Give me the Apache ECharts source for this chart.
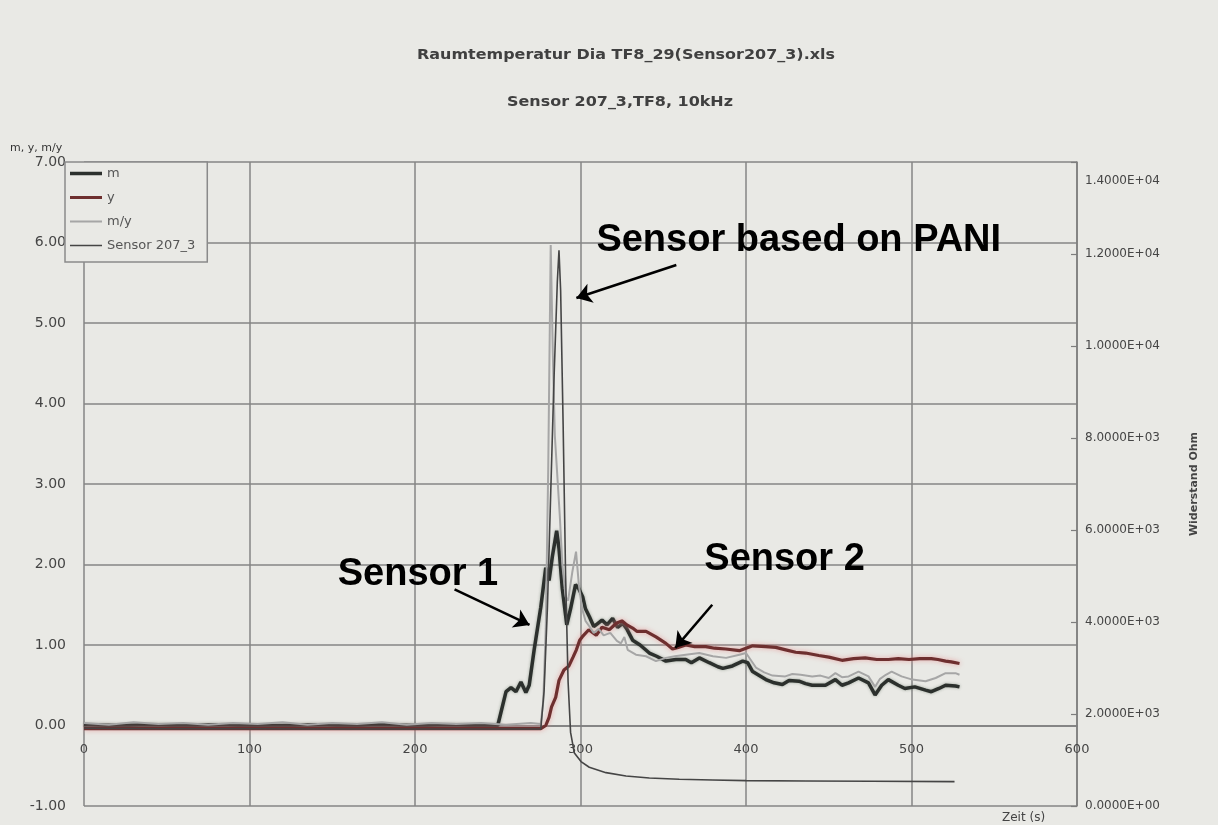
<!DOCTYPE html>
<html>
<head>
<meta charset="utf-8">
<script src="https://cdn.jsdelivr.net/npm/echarts@6/dist/echarts.min.js"></script>
<style>
  html, body { margin: 0; padding: 0; background: #e9e9e5; }
  #chart { width: 1218px; height: 825px; }
</style>
</head>
<body>
<div id="chart"></div>
<script>
// Messreihen: [Zeit (s), Wert]
const mKurve = [
  [0,0.01],[20,0.0],[40,0.01],[60,0.0],[80,0.01],[100,0.0],[120,0.0],[140,0.01],[160,0.0],[180,0.01],
  [200,0.0],[220,0.01],[240,0.0],[250,0.0],[255,0.42],[258,0.47],[261,0.42],[264,0.54],[267,0.41],
  [269,0.5],[272,0.94],[276,1.47],[279,1.96],[281,1.8],[283,2.1],[285.6,2.42],[287,2.2],[289,1.7],
  [291.7,1.25],[294,1.45],[297,1.75],[299,1.7],[301.3,1.6],[303,1.45],[305.4,1.35],[308,1.23],[310,1.26],
  [313,1.31],[316,1.25],[319.4,1.33],[322.4,1.22],[325.5,1.27],[328,1.2],[331.5,1.06],[336,1.0],
  [341.6,0.9],[346,0.86],[351.6,0.8],[357.6,0.82],[363.6,0.82],[367,0.78],[371.8,0.84],[377.8,0.78],
  [383,0.73],[386,0.71],[391.8,0.74],[398,0.8],[401,0.78],[404,0.67],[408,0.62],[412,0.57],[417,0.53],
  [422,0.51],[426,0.56],[432,0.55],[436,0.52],[440,0.5],[448,0.5],[454,0.57],[458,0.5],[462,0.53],
  [468,0.59],[474,0.53],[478,0.38],[482,0.5],[486,0.57],[492,0.5],[496,0.46],[502,0.48],[508.5,0.44],
  [512,0.42],[516.6,0.46],[520.6,0.5],[526.6,0.49],[529,0.48]
];

const yKurve = [
  [0,-0.04],[50,-0.04],[100,-0.04],[150,-0.04],[200,-0.04],[250,-0.04],[276,-0.04],[279,0.0],[281,0.1],
  [282.5,0.23],[285,0.35],[287,0.56],[290,0.69],[293,0.74],[295.5,0.85],[297.5,0.94],[299.5,1.06],
  [301,1.1],[305,1.19],[309.5,1.12],[313,1.22],[317.5,1.19],[321.6,1.27],[325,1.3],[328,1.25],
  [331.5,1.21],[334,1.17],[339.6,1.17],[345.6,1.1],[351.6,1.02],[355.6,0.95],[359,0.97],[363.6,1.0],
  [369,0.98],[375.7,0.98],[381,0.96],[387.8,0.95],[396,0.93],[400,0.96],[404,0.99],[412,0.98],
  [418,0.97],[424,0.94],[430,0.91],[436,0.9],[444,0.87],[450,0.85],[458,0.81],[465,0.83],[472,0.84],
  [479,0.82],[486,0.82],[492,0.83],[498.5,0.82],[505,0.83],[512,0.83],[516,0.82],[520.6,0.8],
  [524,0.79],[529,0.77]
];

const myKurve = [
  [0,0.03],[15,0.01],[30,0.04],[45,0.02],[60,0.03],[75,0.01],[90,0.03],[105,0.02],[120,0.04],[135,0.01],
  [150,0.03],[165,0.02],[180,0.04],[195,0.01],[210,0.03],[225,0.02],[240,0.03],[255,0.01],[270,0.03],
  [276,0.02],[277.5,0.3],[279,1.2],[280.5,3.2],[282,5.97],[283.3,4.6],[284.5,3.6],[286,3.1],[287.5,2.6],
  [289,2.0],[291,1.6],[292.5,1.55],[295,1.9],[297.3,2.16],[299,1.75],[301,1.45],[303,1.3],[305.4,1.23],
  [308,1.15],[311,1.2],[314,1.12],[318,1.15],[322,1.05],[324.4,1.02],[326.5,1.1],[328.5,0.94],
  [333.5,0.88],[339.6,0.86],[345.6,0.8],[351.6,0.84],[357,0.86],[363.6,0.88],[371.8,0.9],[380,0.86],
  [388,0.84],[396,0.88],[400,0.9],[406,0.72],[411,0.66],[416,0.62],[423.7,0.61],[428,0.64],[433,0.63],
  [440,0.61],[445,0.62],[450,0.59],[454,0.65],[458,0.6],[462,0.61],[468,0.67],[474,0.61],[478,0.48],
  [481,0.58],[484.5,0.63],[488,0.67],[494,0.61],[500.5,0.57],[508.5,0.55],[514.6,0.59],[520.6,0.65],
  [526.6,0.65],[529,0.63]
];

// Widerstand des Sensors 207_3 in Ohm (rechte Achse)
const sensorKurve = [
  [0,1690],[50,1680],[100,1680],[150,1675],[200,1675],[250,1675],[276,1675],[278,2500],[280,4300],
  [282,6800],[284,9300],[286,11400],[287,12080],[288,11200],[289.5,8300],[291,5000],[292.5,2700],
  [294,1600],[296.3,1150],[300.3,965],[305.3,842],[315.4,725],[327.5,653],[341.6,609],[359.7,581],
  [379.8,566],[400,552],[436,544],[476,537],[526,530]
];

const serienNamen = ['m', 'y', 'm/y', 'Sensor 207_3'];

// Beschriftungen und Pfeile in Datenkoordinaten (linke Achse)
const beschriftungen = [
  { text: 'Sensor based on PANI', pos: [309.6, 6.03] },
  { text: 'Sensor 1', pos: [153.3, 1.87] },
  { text: 'Sensor 2', pos: [374.8, 2.06] }
];
const pfeile = [
  { von: [357.9, 5.72], nach: [297.5, 5.31] },
  { von: [223.9, 1.69], nach: [269.2, 1.25] },
  { von: [379.6, 1.50], nach: [357.3, 0.965] }
];

const FONT = 'DejaVu Sans';
const PAPIER = '#e9e9e5';
const GITTER = '#858585';
const TEXT = '#454545';

// Legendensymbol: waagrechte Linie der Dicke d in einem 32x12-Feld
function linienSymbol(d) {
  const o = (6 - d / 2).toFixed(2), u = (6 + d / 2).toFixed(2);
  return 'path://M0,0 L0.01,0 L0,0.01 Z M0,' + o + ' L32,' + o + ' L32,' + u + ' L0,' + u +
         ' Z M32,12 L31.99,12 L32,11.99 Z';
}

function wissenschaftlich(v) {
  if (v === 0) return '0.0000E+00';
  const e = Math.floor(Math.log10(Math.abs(v)) + 1e-9);
  const mant = v / Math.pow(10, e);
  return mant.toFixed(4) + 'E' + (e < 0 ? '-' : '+') + String(Math.abs(e)).padStart(2, '0');
}

const chart = echarts.init(document.getElementById('chart'), null, { renderer: 'canvas' });

const option = {
  animation: false,
  backgroundColor: PAPIER,
  textStyle: { fontFamily: FONT },
  grid: { left: 84, right: 141, top: 162, bottom: 19, containLabel: false, outerBoundsMode: 'none' },
  legend: {
    data: [
      { name: 'm', icon: linienSymbol(3.5) },
      { name: 'y', icon: linienSymbol(3.2) },
      { name: 'm/y', icon: linienSymbol(2) },
      { name: 'Sensor 207_3', icon: linienSymbol(1.5) }
    ],
    orient: 'vertical',
    left: 65,
    top: 162,
    itemWidth: 32,
    itemHeight: 12,
    itemGap: 11,
    padding: [5, 12, 10, 5],
    borderColor: '#8a8a8a',
    borderWidth: 1.5,
    borderRadius: 0,
    backgroundColor: PAPIER,
    textStyle: { fontSize: 13, color: '#555', fontFamily: FONT },
    selectedMode: false
  },
  xAxis: {
    type: 'value',
    min: 0,
    max: 600,
    interval: 100,
    offset: -80.5,
    axisLine: { onZero: false, lineStyle: { color: '#7d7d7d', width: 1.5 } },
    axisTick: { show: false },
    axisLabel: { color: TEXT, fontSize: 13, margin: 18, showMinLabel: true, showMaxLabel: true, fontFamily: FONT },
    splitLine: { show: true, lineStyle: { color: GITTER, width: 1.5 } }
  },
  yAxis: [
    {
      type: 'value',
      min: -1,
      max: 7,
      interval: 1,
      position: 'left',
      axisLine: { show: false },
      axisTick: { show: false },
      axisLabel: { color: TEXT, fontSize: 14, margin: 18, fontFamily: FONT,
                   showMinLabel: true, showMaxLabel: true,
                   formatter: v => v.toFixed(2) },
      splitLine: { show: true, lineStyle: { color: GITTER, width: 1.5 } }
    },
    {
      type: 'value',
      min: 0,
      max: 14000,
      interval: 2000,
      position: 'right',
      axisLine: { show: true, lineStyle: { color: '#7d7d7d', width: 1.5 } },
      axisTick: { show: true, inside: true, length: 6, lineStyle: { color: '#7d7d7d', width: 1.2 } },
      axisLabel: {
        color: TEXT, fontSize: 12, margin: 8, fontFamily: FONT,
        showMinLabel: true, showMaxLabel: true,
        formatter: v => v === 14000 ? '{oben|' + wissenschaftlich(v) + '}' : wissenschaftlich(v),
        rich: { oben: { padding: [38, 0, 0, 0], fontSize: 12, color: TEXT, fontFamily: FONT } }
      },
      splitLine: { show: false },
      name: 'Widerstand Ohm',
      nameLocation: 'middle',
      nameRotate: 90,
      nameGap: 112,
      nameTextStyle: { fontWeight: 'bold', fontSize: 11, color: '#444', fontFamily: FONT }
    }
  ],
  series: [
    {
      name: 'm', type: 'line', yAxisIndex: 0, data: mKurve, symbol: 'none', smooth: false,
      lineStyle: { color: '#2c302d', width: 3.5, shadowColor: 'rgba(60,80,60,0.45)', shadowBlur: 3 },
      itemStyle: { color: '#2c302d' },
      emphasis: { disabled: true },
      markLine: {
        silent: true,
        symbol: ['none', 'arrow'],
        symbolSize: 15,
        label: { show: false },
        emphasis: { disabled: true },
        lineStyle: { color: '#000', width: 2.5, type: 'solid' },
        data: pfeile.map(p => [{ coord: p.von }, { coord: p.nach }])
      }
    },
    {
      name: 'y', type: 'line', yAxisIndex: 0, data: yKurve, symbol: 'none',
      lineStyle: { color: '#6e2f2f', width: 3.2, shadowColor: 'rgba(230,140,140,0.75)', shadowBlur: 5 },
      itemStyle: { color: '#6e2f2f' },
      emphasis: { disabled: true }
    },
    {
      name: 'm/y', type: 'line', yAxisIndex: 0, data: myKurve, symbol: 'none',
      lineStyle: { color: '#a6a6a6', width: 2 },
      itemStyle: { color: '#a6a6a6' },
      emphasis: { disabled: true }
    },
    {
      name: 'Sensor 207_3', type: 'line', yAxisIndex: 1, data: sensorKurve, symbol: 'none',
      lineStyle: { color: '#454545', width: 1.6 },
      itemStyle: { color: '#454545' },
      emphasis: { disabled: true }
    }
  ]
};

chart.setOption(option);

// Titel, Achsennamen und Beschriftungen
const grafik = [
  { type: 'text', x: 626, y: 55, scaleX: 1.14, style: { text: 'Raumtemperatur Dia TF8_29(Sensor207_3).xls',
    fontFamily: FONT, fontWeight: 'bold', fontSize: 14, fill: '#404040', align: 'center', verticalAlign: 'middle' } },
  { type: 'text', x: 620, y: 102, scaleX: 1.14, style: { text: 'Sensor 207_3,TF8, 10kHz',
    fontFamily: FONT, fontWeight: 'bold', fontSize: 14, fill: '#404040', align: 'center', verticalAlign: 'middle' } },
  { type: 'text', x: 10, y: 148, style: { text: 'm, y, m/y',
    fontFamily: FONT, fontSize: 11, fill: '#333', align: 'left', verticalAlign: 'middle' } },
  { type: 'text', x: 1002, y: 818, style: { text: 'Zeit (s)',
    fontFamily: FONT, fontSize: 12, fill: '#444', align: 'left', verticalAlign: 'middle' } }
];
beschriftungen.forEach(b => {
  const [px, py] = chart.convertToPixel({ xAxisIndex: 0, yAxisIndex: 0 }, b.pos);
  grafik.push({ type: 'text', x: px, y: py, z: 100, style: { text: b.text,
    fontFamily: 'Liberation Sans', fontWeight: 'bold', fontSize: 38, fill: '#000',
    align: 'left', verticalAlign: 'middle' } });
});
chart.setOption({ graphic: grafik });
</script>
</body>
</html>
